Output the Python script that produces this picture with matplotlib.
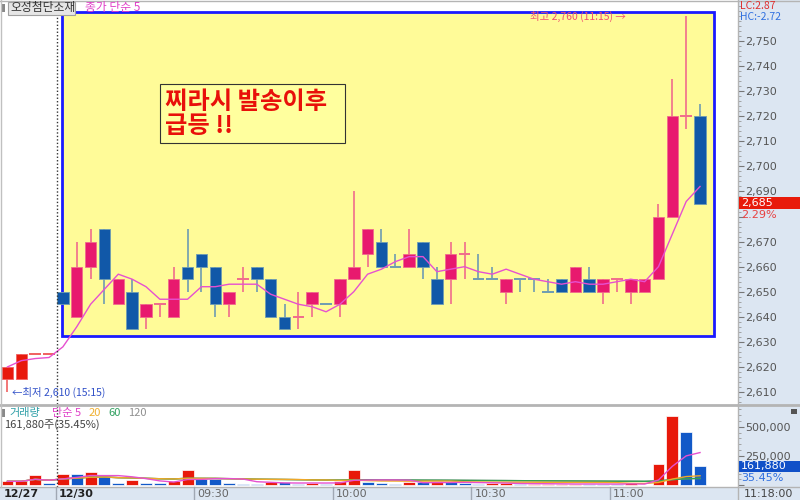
import numpy as np
import pandas as pd
import matplotlib
matplotlib.use('Agg')
import matplotlib.pyplot as plt
from matplotlib.patches import Rectangle
from matplotlib.ticker import MultipleLocator, FixedLocator, FuncFormatter

plt.rcParams['font.family'] = ['Noto Sans CJK KR', 'DejaVu Sans']

# 3-minute candles: 4 from 12/27, then 12/30 09:00 ~ 11:18
opens = [2615, 2615, 2625, 2625,
         2650, 2640, 2660, 2675, 2645, 2650, 2640, 2645, 2640, 2660,
         2665, 2660, 2645, 2655, 2660, 2655, 2640, 2640, 2645, 2645,
         2645, 2655, 2665, 2670, 2660, 2660, 2670, 2655, 2655, 2665,
         2655, 2655, 2650, 2655, 2655, 2650, 2655, 2650, 2655, 2650,
         2655, 2650, 2650, 2655, 2680, 2720, 2720]
highs = [2620, 2625, 2625, 2625,
         2650, 2670, 2675, 2675, 2655, 2655, 2645, 2645, 2660, 2675,
         2665, 2660, 2650, 2660, 2660, 2655, 2645, 2650, 2650, 2645,
         2655, 2690, 2675, 2675, 2665, 2675, 2670, 2660, 2670, 2670,
         2665, 2660, 2655, 2655, 2655, 2655, 2655, 2660, 2660, 2655,
         2655, 2655, 2655, 2685, 2735, 2760, 2725]
lows = [2610, 2615, 2625, 2625,
        2645, 2640, 2655, 2645, 2645, 2635, 2635, 2640, 2640, 2650,
        2650, 2640, 2640, 2650, 2650, 2640, 2635, 2635, 2640, 2645,
        2640, 2655, 2660, 2660, 2660, 2660, 2655, 2645, 2645, 2655,
        2655, 2655, 2645, 2650, 2650, 2650, 2650, 2650, 2650, 2645,
        2650, 2645, 2650, 2655, 2680, 2715, 2685]
closes = [2620, 2625, 2625, 2625,
          2645, 2660, 2670, 2655, 2655, 2635, 2645, 2645, 2655, 2655,
          2660, 2645, 2650, 2655, 2655, 2640, 2635, 2640, 2650, 2645,
          2655, 2660, 2675, 2660, 2660, 2665, 2660, 2645, 2665, 2665,
          2655, 2655, 2655, 2655, 2655, 2650, 2650, 2660, 2650, 2655,
          2655, 2655, 2655, 2680, 2720, 2720, 2685]
volumes = [34, 34, 85, 20,
           100, 97, 114, 83, 20, 48, 20, 17, 34, 128,
           54, 51, 20, 15, 13, 28, 26, 15, 17, 11,
           34, 134, 28, 23, 11, 25, 24, 34, 26, 17,
           15, 17, 20, 9, 10, 11, 12, 13, 10, 9,
           8, 20, 6, 182, 595, 452, 161.88]
volumes = [v * 1000 for v in volumes]

tick_idx = [0, 4, 14, 24, 34, 44]
tick_labels = ['12/27', '12/30', '09:30', '10:00', '10:30', '11:00']
price_ticks = list(range(2610, 2751, 10))

n = len(closes)
x = np.arange(n)
df = pd.DataFrame({'o': opens, 'h': highs, 'l': lows, 'c': closes, 'v': volumes})
ma5 = df['c'].rolling(5, min_periods=1).mean()
vma = {p: df['v'].rolling(p, min_periods=1).mean() for p in [5, 20, 60, 120]}

UP, DOWN = '#e8196e', '#1158a8'
UP_W, DOWN_W = '#f06c8c', '#6e9cb2'
PREV = '#e8190c'

fig = plt.figure(figsize=(8, 5), dpi=100)
W, H = 800, 500


def fx(px):
    return px / W


def fy(py):
    return 1 - py / H


# backgrounds of the right scale column and the time strip (behind the axes)
fig.patches.append(Rectangle((fx(738), 0), fx(62), 1, transform=fig.transFigure,
                             fc='#dce6f2', ec='none', zorder=-2))
fig.patches.append(Rectangle((0, 0), 1, 13 / H, transform=fig.transFigure,
                             fc='#dce6f2', ec='none', zorder=-2))

xl = (-0.54, 52.74)
ax = fig.add_axes([0, fy(404), fx(738), 403 / H])
axv = fig.add_axes([0, fy(487), fx(738), 81 / H])
for a in (ax, axv):
    a.set_facecolor('none')
    a.set_xlim(*xl)
    for s in a.spines.values():
        s.set_visible(False)
    a.tick_params(axis='x', bottom=False, labelbottom=False)
    a.yaxis.tick_right()
    a.tick_params(axis='y', which='major', direction='out', length=4, pad=1,
                  colors='#777777', labelcolor='#555555', labelsize=8,
                  labelfontfamily='DejaVu Sans')
    a.tick_params(axis='y', which='minor', direction='out', length=2, colors='#999999')

ax.set_ylim(2605.2, 2766.0)
ax.yaxis.set_major_locator(FixedLocator(price_ticks))
ax.yaxis.set_minor_locator(MultipleLocator(2))
# 2,680 sits under the change-rate text, as in the reference
ax.yaxis.set_major_formatter(FuncFormatter(lambda v, p: '' if round(v) == 2680 else f'{v:,.0f}'))

# highlighted area
ax.add_patch(Rectangle((3.93, 2632.3), 51.0 - 3.93, 2761.6 - 2632.3,
                       fc='#fffb98', ec='#1a1aff', lw=2, zorder=1))

# candles
prev_up = True
for i in range(n):
    o, h, l, c = opens[i], highs[i], lows[i], closes[i]
    if i > 0 and c != closes[i - 1]:
        prev_up = c > closes[i - 1]
    up = prev_up if o == c else c > o
    if i < 4:
        body, wick = PREV, '#f06060'
    else:
        body, wick = (UP, UP_W) if up else (DOWN, DOWN_W)
    ax.vlines(i, l, h, color=wick, lw=1.2, zorder=2)
    if o == c:
        ax.hlines(c, i - 0.42, i + 0.42, color=wick, lw=1.4, zorder=3)
    else:
        ax.bar(i, abs(c - o), bottom=min(o, c), width=0.83, color=body,
               edgecolor=wick, lw=0.6, zorder=3)

ax.plot(x, ma5, color='#e650d0', lw=1, zorder=4)

# prev-day boundary
for a in (ax, axv):
    a.axvline(3.55, color='#333333', ls=(0, (1, 1.5)), lw=1, zorder=5)

# annotation box
ax.add_patch(Rectangle((11.01, 2709.3), 13.36, 23.55, fc='#ffff9e', ec='#333333',
                       lw=0.8, zorder=5))
ax.text(11.35, 2721.0, '찌라시 발송이후\n급등 !!', color='#e8100a', fontsize=17.5,
        fontweight='bold', style='italic', va='center', ha='left',
        linespacing=1.0, zorder=6)

ax.text(44.6, 2760, '최고 2,760 (11:15) →', color='#f0506e', fontsize=7.5,
        ha='right', va='center', zorder=6)
ax.text(0.35, 2610, '←최저 2,610 (15:15)', color='#3050c8', fontsize=7.5,
        ha='left', va='center', zorder=6)

# volume panel
axv.set_ylim(-14500, 676600)
axv.yaxis.set_major_locator(MultipleLocator(250000))
axv.yaxis.set_minor_locator(MultipleLocator(50000))
axv.yaxis.set_major_formatter(FuncFormatter(lambda v, p: f'{v:,.0f}' if v > 0 else ''))
vcol = ['#e8190a' if i == 0 or volumes[i] >= volumes[i - 1] else '#1259c8' for i in range(n)]
axv.bar(x, volumes, width=0.86, color=vcol, edgecolor='#ffffff', lw=0.5, zorder=2)
vma_col = {5: '#e650d0', 20: '#f0a828', 60: '#30a050', 120: '#909090'}
for p in [120, 60, 20, 5]:
    axv.plot(x, vma[p], color=vma_col[p], lw=1, zorder=3)

# separators
fig.add_artist(plt.Line2D([0, 1], [fy(405), fy(405)], color='#b4b4b4', lw=2))
fig.add_artist(plt.Line2D([0, 1], [fy(487), fy(487)], color='#b4b4b4', lw=1))
fig.add_artist(plt.Line2D([0, 1], [fy(0.5), fy(0.5)], color='#b4b4b4', lw=1))
fig.add_artist(plt.Line2D([fx(738), fx(738)], [0, 1], color='#b4b4b4', lw=1))
fig.add_artist(plt.Line2D([fx(1), fx(1)], [fy(487), 1], color='#c0c0c0', lw=1))

# time strip
for k, lab in zip(tick_idx, tick_labels):
    xpix = 7.5 + 13.85 * (k - 0.5)
    if k > 0:
        fig.add_artist(plt.Line2D([fx(xpix), fx(xpix)], [0, fy(487)], color='#a0a8b4', lw=1))
    bold = lab.startswith('12/')
    fig.text(fx(max(xpix, 0) + 3), fy(494), lab, fontsize=8, va='center', ha='left',
             color='#222222' if bold else '#666666',
             fontweight='bold' if bold else 'normal', family='DejaVu Sans')
fig.text(fx(744), fy(494), '11:18:00', fontsize=8, va='center', color='#444444',
         family='DejaVu Sans')

# top legend
fig.patches.append(Rectangle((fx(8), fy(15)), fx(67), 13 / H, transform=fig.transFigure,
                             fc='#e6e6e6', ec='#a0a0a0', lw=0.8))
fig.patches.append(Rectangle((fx(2), fy(12)), fx(3), 8 / H, transform=fig.transFigure,
                             fc='#888888', ec='none'))
fig.text(fx(10), fy(8), '오성첨단소재', fontsize=8.5, va='center', color='#333333')
fig.text(fx(85), fy(8), '종가 단순 5', fontsize=8.5, va='center', color='#e040c8')

# right column labels
fig.text(fx(740), fy(6), 'LC:2.87', fontsize=7.5, va='center', color='#e03030')
fig.text(fx(740), fy(17), 'HC:-2.72', fontsize=7.5, va='center', color='#3070e0')
fig.patches.append(Rectangle((fx(739), fy(209)), fx(61), 12 / H, transform=fig.transFigure,
                             fc='#e81a0a', ec='none', zorder=3))
fig.text(fx(741), fy(203), '2,685', fontsize=8, va='center', color='white',
         family='DejaVu Sans', zorder=4)
fig.text(fx(741), fy(215), '2.29%', fontsize=8, va='center', color='#e84040',
         family='DejaVu Sans')
fig.patches.append(Rectangle((fx(739), fy(472)), fx(61), 11 / H, transform=fig.transFigure,
                             fc='#1050c8', ec='none', zorder=3))
fig.text(fx(741), fy(466.5), '161,880', fontsize=8, va='center', color='white',
         family='DejaVu Sans', zorder=4)
fig.text(fx(741), fy(478), '35.45%', fontsize=8, va='center', color='#3070e0',
         family='DejaVu Sans')

# volume legend
fig.patches.append(Rectangle((fx(2), fy(417)), fx(3), 8 / H, transform=fig.transFigure,
                             fc='#888888', ec='none'))
vleg = [('거래량', '#30a0a8', 9), ('단순 5', '#e040c8', 52), ('20', '#f0b030', 89),
        ('60', '#30a060', 108), ('120', '#909090', 128)]
for t, col, xp in vleg:
    fig.text(fx(xp), fy(413), t, fontsize=8, va='center', color=col)
fig.text(fx(4), fy(425), '161,880주(35.45%)', fontsize=8, va='center', color='#444444')
fig.patches.append(Rectangle((fx(791), fy(414)), fx(6), 5 / H, transform=fig.transFigure,
                             fc='#555555', ec='none'))

fig.savefig('out.png', dpi=100)
